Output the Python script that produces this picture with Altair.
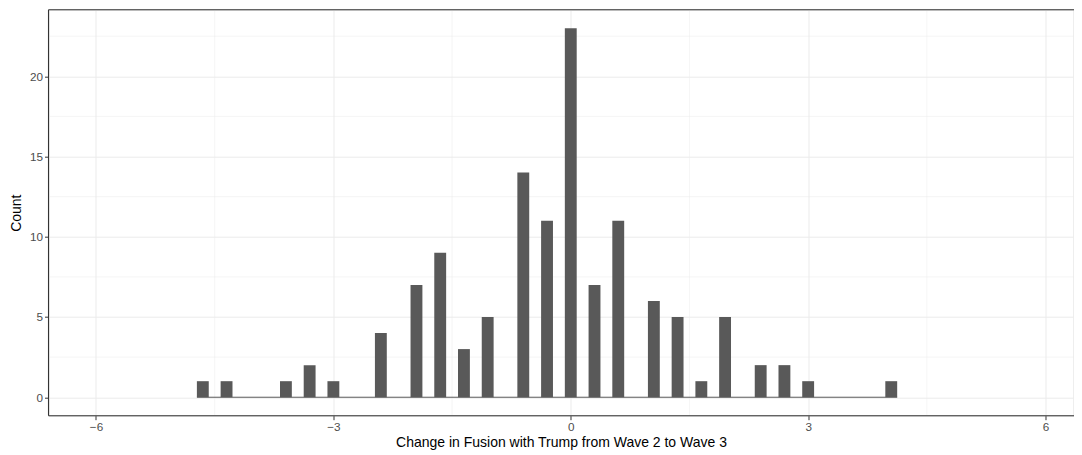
import altair as alt
import pandas as pd

# Histogram bins (centre of each non-empty bin) and their counts
bin_centers = [-4.65, -4.35, -3.6, -3.3, -3.0, -2.4, -1.95, -1.65, -1.35, -1.05,
               -0.6, -0.3, 0.0, 0.3, 0.6, 1.05, 1.35, 1.65, 1.95, 2.4, 2.7, 3.0, 4.05]
counts = [1, 1, 1, 2, 1, 4, 7, 9, 3, 5, 14, 11, 23, 7, 11, 6, 5, 1, 5, 2, 2, 1, 1]
binwidth = 0.15

x_ticks = [-6, -3, 0, 3, 6]
x_minor = [-4.5, -1.5, 1.5, 4.5]
y_ticks = [0, 5, 10, 15, 20]
y_minor = [2.5, 7.5, 12.5, 17.5, 22.5]

x_title = "Change in Fusion with Trump from Wave 2 to Wave 3"
y_title = "Count"

W, H = 1025, 406
FONT = "Liberation Sans"

xscale = alt.Scale(domain=[-6.6, 6.353], nice=False, zero=False)
yscale = alt.Scale(domain=[-1.15, 24.15], nice=False, zero=False)

bars_df = pd.DataFrame({"center": bin_centers, "count": counts})
base_df = pd.DataFrame({"lo": [min(bin_centers) - binwidth / 2],
                        "hi": [max(bin_centers) + binwidth / 2],
                        "zero": [0]})

xaxis = alt.Axis(values=x_ticks, format="d", title=x_title, grid=True, gridColor="#EBEBEB",
                 gridWidth=1, domain=False, tickColor="#333333", tickSize=4,
                 tickWidth=1, labelColor="#4D4D4D", labelFontSize=11.7, labelFont=FONT,
                 labelPadding=1.5, titleFont=FONT, titleFontSize=14,
                 titleFontWeight="normal", titleColor="#000000", titlePadding=2.5)
yaxis = alt.Axis(values=y_ticks, format="d", title=y_title, grid=True, gridColor="#EBEBEB",
                 gridWidth=1, domain=False, tickColor="#333333", tickSize=4,
                 tickWidth=1, labelColor="#4D4D4D", labelFontSize=11.7, labelFont=FONT,
                 labelPadding=2, titleFont=FONT, titleFontSize=14,
                 titleFontWeight="normal", titleColor="#000000", titlePadding=6.5)

minor_x = alt.Chart(pd.DataFrame({"v": x_minor})).mark_rule(
    color="#EBEBEB", strokeWidth=0.5).encode(
    x=alt.X("v:Q", scale=xscale, axis=xaxis))
minor_y = alt.Chart(pd.DataFrame({"v": y_minor})).mark_rule(
    color="#EBEBEB", strokeWidth=0.5).encode(
    y=alt.Y("v:Q", scale=yscale, axis=yaxis))

baseline = alt.Chart(base_df).mark_rule(color="#595959", strokeWidth=1).encode(
    x=alt.X("lo:Q", scale=xscale), x2="hi:Q", y=alt.Y("zero:Q", scale=yscale))

bars = alt.Chart(bars_df).transform_calculate(
    x0=f"datum.center - {binwidth / 2}", x1=f"datum.center + {binwidth / 2}",
    y0="0").mark_rect(color="#595959").encode(
    x=alt.X("x0:Q", scale=xscale), x2="x1:Q",
    y=alt.Y("count:Q", scale=yscale), y2="y0:Q")

frame_top = alt.Chart(base_df).mark_rule(color="#333333", strokeWidth=1.1).encode(
    x=alt.value(0), x2=alt.value(W + 5), y=alt.value(0))
frame_bottom = alt.Chart(base_df).mark_rule(color="#333333", strokeWidth=1.1).encode(
    x=alt.value(0), x2=alt.value(W + 5), y=alt.value(H))
frame_left = alt.Chart(base_df).mark_rule(color="#333333", strokeWidth=1.1).encode(
    x=alt.value(0), y=alt.value(0), y2=alt.value(H))

chart = alt.layer(minor_x, minor_y, baseline, bars, frame_top, frame_bottom, frame_left).properties(
    width=W, height=H,
    autosize=alt.AutoSizeParams(type="none"),
    padding={"left": 40.5, "top": 1.7, "right": 0, "bottom": 38},
).configure_view(stroke=None).configure(background="white")

chart.save("out.html", embed_options={"renderer": "svg", "actions": False})
